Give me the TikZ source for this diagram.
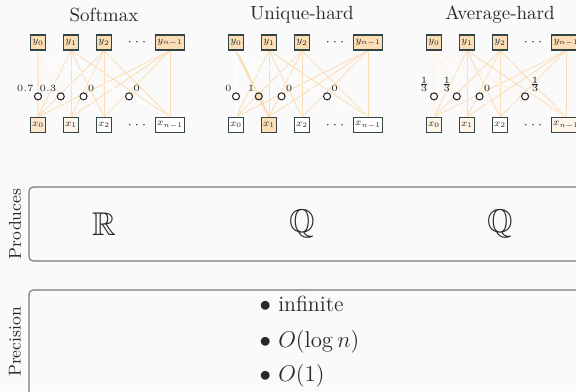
\documentclass[tikz,border=0pt]{standalone}
\usepackage{amssymb}
\usepackage{graphicx}
\usetikzlibrary{calc}

\definecolor{bgc}{RGB}{250,250,250}
\definecolor{peach}{RGB}{251,222,182}
\definecolor{tokedge}{RGB}{50,68,68}
\definecolor{framegray}{RGB}{112,124,124}
\definecolor{ink}{RGB}{40,40,40}

\pgfdeclarelayer{canvas}
\pgfdeclarelayer{wires}
\pgfsetlayers{canvas,wires,main}

% compact math label for the token boxes
\newcommand\tokmath[1]{\scalebox{0.74}{\scriptsize$#1$}}

\tikzset{
  tok/.style={draw=tokedge, line width=0.6pt, minimum size=7.9pt, inner sep=0.9pt,
              fill=#1},
  tok/.default=white,
  attn/.style={circle, draw=black!85, line width=0.55pt, minimum size=3.7pt,
               inner sep=0pt, fill=#1},
  attn/.default=white,
  wlab/.style={font=\tiny, inner sep=0.6pt},
  wire/.style={draw=peach, line width=0.45pt},
  frame/.style={draw=framegray, line width=0.6pt, rounded corners=2.2pt},
  side/.style={rotate=90, font=\small},
}

% #1 prefix, #2 horizontal offset, #3 title,
% #4 weight/column/token for the bottom row, #5 label/side/fill for the weights
\newcommand\attnpanel[5]{%
  \begin{scope}[shift={(#2,0)}]
    \node (#1title) at (104,15) {#3};
    \foreach \c/\lab/\k in {38/y_0/0, 71/y_1/1, 104/y_2/2, 170/y_{n-1}/3}
      \node[tok=peach] (#1y\k) at (\c,42.5) {\tokmath{\lab}};
    \node[font=\scriptsize] (#1ydots) at (137,42.5) {$\cdots$};
    \node[font=\scriptsize] (#1xdots) at (137,125) {$\cdots$};
    \foreach \w/\c/\lab [count=\k from 0] in {#4}{
      \node[tok=peach!\w!white] (#1x\k) at (\c,125) {\tokmath{\lab}};
    }
    \begin{pgfonlayer}{wires}
      \foreach \j in {1,2,3}
        \foreach \i in {0,1,2,3}
          \draw[wire] (#1y\j.south) -- (#1x\i.north);
      \foreach \w/\c/\lab [count=\k from 0] in {#4}{
        \pgfmathsetmacro\lw{0.45+0.7*\w/100}
        \draw[draw=peach!\w!white, line width=\lw pt] (#1y0.south) -- (#1x\k.north);
      }
    \end{pgfonlayer}
    \foreach \t/\side/\f [count=\k from 0] in {#5}{
      \node[attn=\f, label={[wlab]\side:\t}] (#1a\k)
        at ($(#1y0.south)!0.69!(#1x\k.north)$) {};
    }
  \end{scope}
}

\begin{document}
\begin{tikzpicture}[x=0.526pt, y=-0.526pt, text=ink]
  \begin{pgfonlayer}{canvas}
    \fill[bgc] (0,0) rectangle (576,391);
  \end{pgfonlayer}
  \useasboundingbox (0,0) rectangle (576,391);
  \clip (0,0) rectangle (576,391);

  \attnpanel{s}{0}{Softmax}
    {70/38/x_0, 30/71/x_1, 0/104/x_2, 0/170/x_{n-1}}
    {0.7/above left/white, 0.3/above left/white, 0/above right/white, 0/above right/white}
  \attnpanel{u}{198}{Unique-hard}
    {0/38/x_0, 100/71/x_1, 0/104/x_2, 0/170/x_{n-1}}
    {0/above left/white, 1/above left/peach, 0/above right/white, 0/above right/white}
  \attnpanel{a}{396}{Average-hard}
    {33/38/x_0, 33/71/x_1, 0/104/x_2, 33/170/x_{n-1}}
    {$\frac{1}{3}$/above left/white, $\frac{1}{3}$/above left/white,
     0/above right/white, $\frac{1}{3}$/above right/white}

  % property rows
  \draw[frame] (29,187) rectangle (620,261);
  \draw[frame] (29,290) rectangle (620,420);
  \node[side] (prodlab) at (15,224) {Produces};
  \node[side] (preclab) at (15,342) {Precision};
  \node[font=\LARGE] (prodS) at (104,224) {$\mathbb{R}$};
  \node[font=\LARGE] (prodU) at (302,224) {$\mathbb{Q}$};
  \node[font=\LARGE] (prodA) at (500,224) {$\mathbb{Q}$};
  \begin{scope}[every node/.style={anchor=west, font=\fontsize{11.5}{13}\selectfont}]
    \node (prec1) at (253,304) {$\bullet$ infinite};
    \node (prec2) at (253,342) {$\bullet$ $O(\log n)$};
    \node (prec3) at (253,376) {$\bullet$ $O(1)$};
  \end{scope}
\end{tikzpicture}
\end{document}
